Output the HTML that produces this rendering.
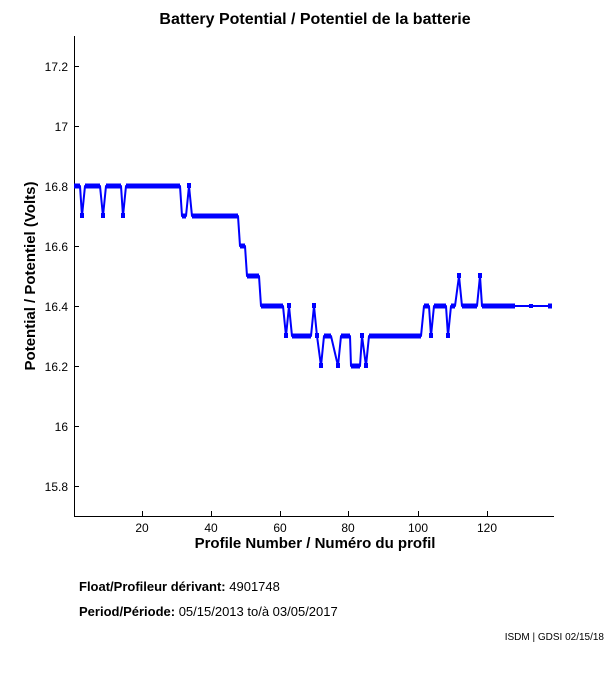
<!DOCTYPE html>
<html><head><meta charset="utf-8"><style>
html,body{margin:0;padding:0;background:#fff;width:611px;height:675px;overflow:hidden}
text{font-family:"Liberation Sans",sans-serif;fill:#000}
</style></head><body>
<svg width="611" height="675" viewBox="0 0 611 675" xmlns="http://www.w3.org/2000/svg">
<text x="315" y="24" font-size="16" font-weight="bold" text-anchor="middle">Battery Potential / Potentiel de la batterie</text>
<g stroke="#000" stroke-width="1" fill="none">
<path d="M74.5 36 V516.5 H554"/>
<path d="M74 66.5h5M74 126.5h5M74 186.5h5M74 246.5h5M74 306.5h5M74 366.5h5M74 426.5h5M74 486.5h5"/>
<path d="M142.5 516v-5M211.5 516v-5M280.5 516v-5M348.5 516v-5M418.5 516v-5M487.5 516v-5"/>
</g>
<g font-size="12" text-anchor="end">
<text x="68" y="71">17.2</text><text x="68" y="131">17</text><text x="68" y="191">16.8</text>
<text x="68" y="251">16.6</text><text x="68" y="311">16.4</text><text x="68" y="371">16.2</text>
<text x="68" y="431">16</text><text x="68" y="491">15.8</text>
</g>
<g font-size="12" text-anchor="middle">
<text x="142" y="532">20</text><text x="211" y="532">40</text><text x="280" y="532">60</text>
<text x="348" y="532">80</text><text x="418" y="532">100</text><text x="487" y="532">120</text>
</g>
<text x="315" y="548" font-size="15" font-weight="bold" text-anchor="middle">Profile Number / Numéro du profil</text>
<text transform="translate(35,276) rotate(-90)" font-size="15" font-weight="bold" text-anchor="middle">Potential / Potentiel (Volts)</text>
<text x="79" y="591" font-size="13"><tspan font-weight="bold">Float/Profileur dérivant:</tspan> 4901748</text>
<text x="79" y="616" font-size="13"><tspan font-weight="bold">Period/Période:</tspan> 05/15/2013  to/à  03/05/2017</text>
<text x="604" y="640" font-size="10" text-anchor="end">ISDM | GDSI 02/15/18</text>
<g stroke="#0000ff" fill="none" stroke-linejoin="round">
<polyline stroke-width="2" points="74,186 80,186 82,216 85,186 100,186 103,216 106,186 121,186 123,216 126,186 180,186 182,216 186,216 189,186 192,216 238,216 240,246 245,246 247,276 259,276 261,306 283,306 286,336 289,306 292,336 311,336 314,306 317,336 321,366 324,336 331,336 338,366 341,336 350,336 351,366 360,366 362,336 366,366 369,336 421,336 424,306 429,306 431,336 434,306 446,306 448,336 451,306 455,306 459,276 462,306 477,306 480,276 482,306 515,306 531,306 552,306"/>
<g stroke-width="5">
<path d="M74 186H80M85 186H100M106 186H121M126 186H180M182 216H186M192 216H238M240 246H245M247 276H259M261 306H283M292 336H311M324 336H331M341 336H350M351 366H360M369 336H421M424 306H429M434 306H446M451 306H455M462 306H477M482 306H515M548 306H552"/>
</g>
</g>
<g fill="#0000ff">
<rect x="80" y="213" width="4" height="5"/><rect x="101" y="213" width="4" height="5"/><rect x="121" y="213" width="4" height="5"/>
<rect x="187" y="183" width="4" height="5"/><rect x="284" y="333" width="4" height="5"/><rect x="287" y="303" width="4" height="5"/>
<rect x="312" y="303" width="4" height="5"/><rect x="315" y="333" width="4" height="5"/><rect x="319" y="363" width="4" height="5"/>
<rect x="336" y="363" width="4" height="5"/><rect x="360" y="333" width="4" height="5"/><rect x="364" y="363" width="4" height="5"/>
<rect x="429" y="333" width="4" height="5"/><rect x="446" y="333" width="4" height="5"/><rect x="457" y="273" width="4" height="5"/>
<rect x="478" y="273" width="4" height="5"/><rect x="529" y="304" width="4" height="4"/>
</g>
</svg>
</body></html>
